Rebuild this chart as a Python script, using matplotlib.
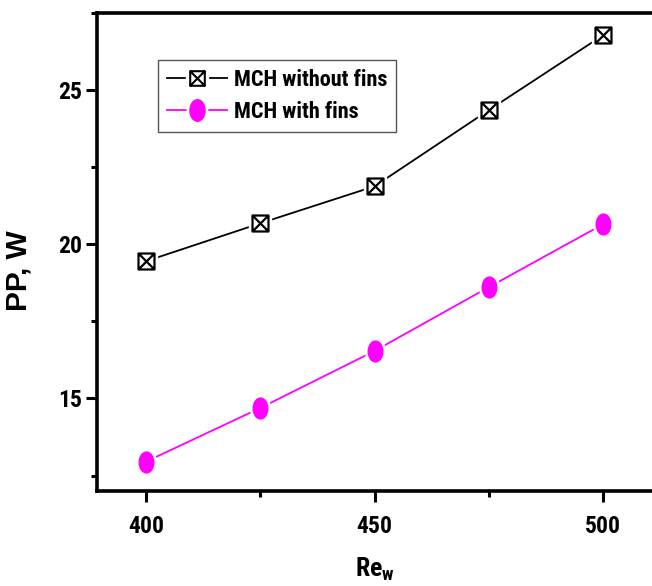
import matplotlib
matplotlib.use("Agg")
import matplotlib.pyplot as plt
import numpy as np
from matplotlib.path import Path
from matplotlib.lines import Line2D
from matplotlib.ticker import MultipleLocator

re_w = [400, 425, 450, 475, 500]
pp_without_fins = [19.45, 20.68, 21.88, 24.35, 26.78]
pp_with_fins = [12.95, 14.69, 16.54, 18.61, 20.65]
labels = ["MCH without fins", "MCH with fins"]

narrow = ["Liberation Sans Narrow", "Roboto Condensed", "Liberation Sans"]
wide = ["Liberation Sans", "DejaVu Sans"]

# square with both diagonals
box_x = Path(
    [(-1, -1), (1, -1), (1, 1), (-1, 1), (-1, -1), (-1, -1), (1, 1), (1, -1), (-1, 1)],
    [Path.MOVETO, Path.LINETO, Path.LINETO, Path.LINETO, Path.CLOSEPOLY,
     Path.MOVETO, Path.LINETO, Path.MOVETO, Path.LINETO],
)
square = Path([(-1, -1), (1, -1), (1, 1), (-1, 1), (-1, -1)],
              [Path.MOVETO, Path.LINETO, Path.LINETO, Path.LINETO, Path.CLOSEPOLY])
# upright ellipse
circ = Path.unit_circle()
ellipse = Path(circ.vertices * np.array([0.7, 1.0]), circ.codes)

fig = plt.figure(figsize=(6.52, 5.86), dpi=100)
ax = fig.add_axes([97 / 652, 1 - 491 / 586, 1 - 97 / 652, (491 - 13) / 586])

magenta = "#ff00ff"
ax.plot(re_w, pp_without_fins, color="black", lw=1.3, zorder=2)
ax.plot(re_w, pp_with_fins, color=magenta, lw=1.3, zorder=2)
# white halos leave a small gap between the lines and the symbols
ax.plot(re_w, pp_without_fins, ls="none", marker=square, ms=16, mfc="white", mec="white", zorder=3)
ax.plot(re_w, pp_with_fins, ls="none", marker=ellipse, ms=20, mfc="white", mec="white", zorder=3)
ax.plot(re_w, pp_without_fins, ls="none", marker=box_x, ms=11.5,
        mfc="white", mec="black", mew=1.6, zorder=4)
ax.plot(re_w, pp_with_fins, ls="none", marker=ellipse, ms=15,
        mfc=magenta, mec=magenta, zorder=4)

# legend handles: line, white gap, symbol
h_black = (Line2D([], [], color="black", lw=1.3),
           Line2D([], [], ls="none", marker=square, ms=16, mfc="white", mec="white"),
           Line2D([], [], ls="none", marker=box_x, ms=10.5, mfc="white", mec="black", mew=1.5))
h_mag = (Line2D([], [], color=magenta, lw=1.3),
         Line2D([], [], ls="none", marker=ellipse, ms=21, mfc="white", mec="white"),
         Line2D([], [], ls="none", marker=ellipse, ms=15.5, mfc=magenta, mec=magenta))

ax.set_xlim(389.3, 510.7)
ax.set_ylim(12.0, 27.5)
ax.xaxis.set_major_locator(MultipleLocator(50))
ax.xaxis.set_minor_locator(MultipleLocator(25))
ax.yaxis.set_major_locator(MultipleLocator(5))
ax.yaxis.set_minor_locator(MultipleLocator(2.5))
ax.tick_params(which="major", direction="out", length=8, width=2.2)
ax.tick_params(which="minor", direction="out", length=4, width=2.2)
ax.tick_params(axis="x", which="major", pad=9)
ax.tick_params(axis="y", which="major", pad=3)
ax.spines["right"].set_visible(False)
for s in ["left", "bottom", "top"]:
    ax.spines[s].set_linewidth(2.6)

for lab in ax.get_xticklabels() + ax.get_yticklabels():
    lab.set_family(narrow)
    lab.set_fontweight("bold")
    lab.set_fontsize(17)

ax.set_ylabel("PP, W", family=wide, fontweight="bold", fontsize=21.5)
ax.yaxis.set_label_coords(-0.117, 0.46)
ax.set_xlabel(r"Re$_\mathregular{w}$", family=narrow, fontweight="bold", fontsize=18.5)
ax.xaxis.set_label_coords(0.5, -0.135)

leg = ax.legend([h_black, h_mag], labels,
                loc="upper left", bbox_to_anchor=((158 - 97) / 555, 1 - (60 - 13) / 478),
                prop={"family": narrow, "weight": "bold", "size": 16},
                frameon=True, fancybox=False, edgecolor="#555555", framealpha=1,
                handlelength=2.7, handletextpad=0.3, borderpad=0.4, labelspacing=0.45,
                borderaxespad=0)
leg.get_frame().set_linewidth(1.0)

fig.savefig("out.png", dpi=100)
